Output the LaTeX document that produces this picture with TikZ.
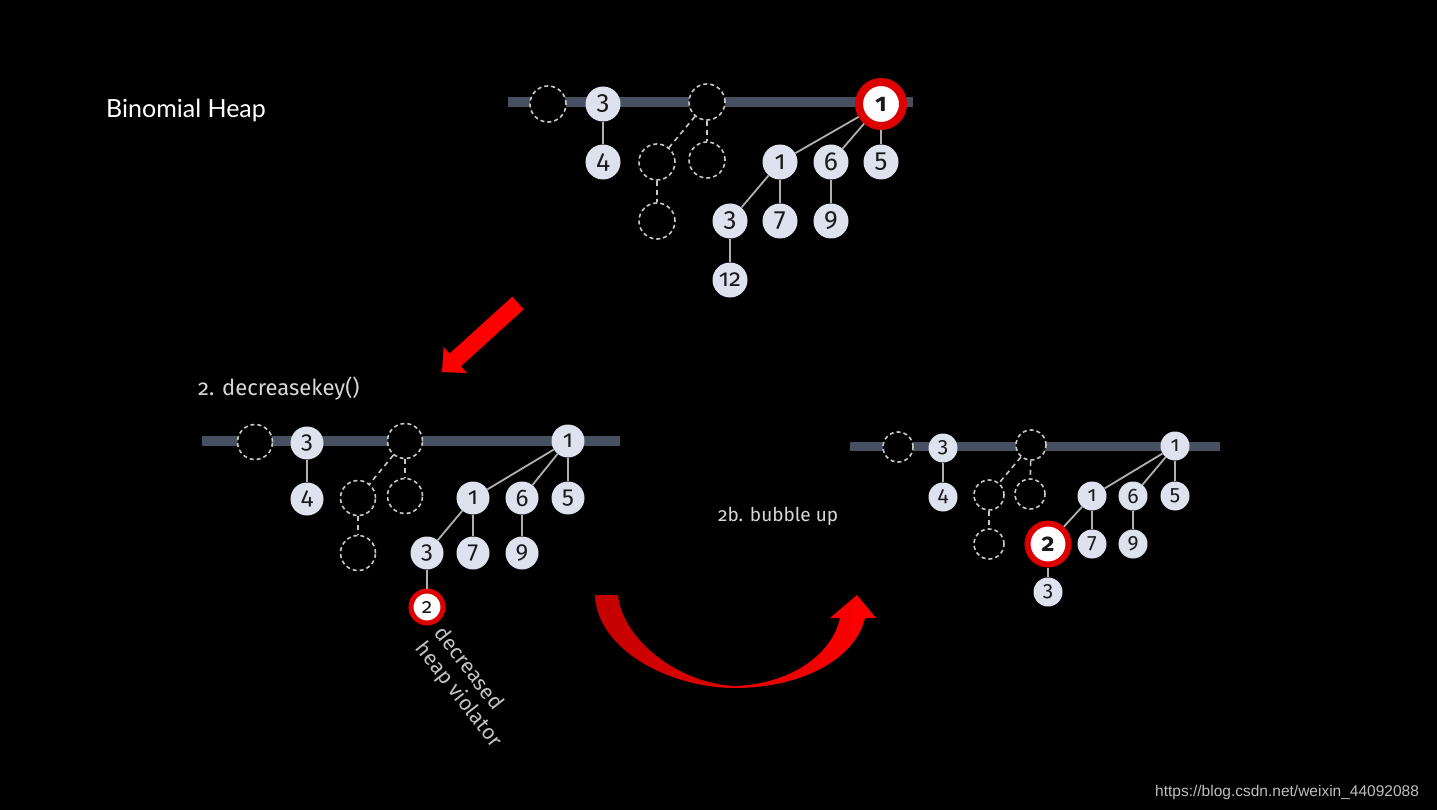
\documentclass[tikz,border=0pt]{standalone}
\usepackage{fontspec}
\usepackage{tikz}
\setmainfont{Fira Sans}[Numbers=OldStyle]
\newfontfamily\titlefont{Lato}
\newfontfamily\urlfont{Liberation Sans}
\definecolor{keyfill}{RGB}{222,226,238}
\definecolor{keyink}{RGB}{25,25,30}
\definecolor{barslate}{RGB}{70,80,96}
\definecolor{linkgrey}{RGB}{175,175,178}
\definecolor{ghostline}{RGB}{200,200,200}
\definecolor{violred}{RGB}{220,0,0}
\definecolor{labelgrey}{RGB}{215,215,215}
\definecolor{arrowred}{RGB}{255,0,0}
\definecolor{arrowdark}{RGB}{195,0,0}
\definecolor{urlgrey}{RGB}{190,190,190}

\begin{document}
\begin{tikzpicture}[
    x=1pt, y=-1pt,
    key/.style={circle, fill=keyfill, text=keyink, inner sep=0pt},
    ghost/.style={circle, draw=ghostline, dash pattern=on 4pt off 3pt, line width=1.6pt, fill=black, inner sep=0pt},
    violator/.style={key, draw=violred, fill=white},
    link/.style={draw=linkgrey, line width=1.8pt},
    ghostlink/.style={draw=ghostline, line width=1.6pt, dash pattern=on 5pt off 4pt},
    rootbar/.style={draw=barslate, line cap=butt},
    steplabel/.style={text=labelgrey, inner sep=0pt, font=\fontsize{22}{21}\selectfont}
]
    % Background
    \fill[black] (0,0) rectangle (1437,810);

    % Title
    \node[anchor=base west, inner sep=0pt, text=white, font=\titlefont\fontsize{25}{25}\selectfont] (title) at (106,118) {Binomial Heap};

    % Heap before decreasekey
    \begin{scope}[key/.append style={minimum size=35pt, font=\fontsize{26}{26}\selectfont},
                  ghost/.append style={minimum size=36pt},
                  violator/.append style={minimum size=44pt, line width=8pt, font=\bfseries\fontsize{25}{25}\selectfont}]
        \draw[rootbar, line width=10pt] (508,102) -- (913,102);
        \node[ghost] (aG1) at (548,104) {};
        \node[key] (a3) at (603,104) {3};
        \node[ghost] (aG2) at (707,102) {};
        \node[violator] (aR) at (881,104) {1};
        \node[key] (a4) at (603,162) {4};
        \node[ghost] (aG21) at (657,162) {};
        \node[ghost] (aG22) at (707,160) {};
        \node[ghost] (aG211) at (657,221) {};
        \node[key] (a1) at (780,162) {1};
        \node[key] (a6) at (831,162) {6};
        \node[key] (a5) at (881,162) {5};
        \node[key] (a13) at (730,221) {3};
        \node[key] (a17) at (780,221) {7};
        \node[key] (a69) at (831,221) {9};
        \node[key, font=\fontsize{24}{24}\selectfont] (a12) at (730,280) {12};
        \draw[link] (a3) -- (a4);
        \draw[link] (aR) -- (a1);
        \draw[link] (aR) -- (a6);
        \draw[link] (aR) -- (a5);
        \draw[link] (a1) -- (a13);
        \draw[link] (a1) -- (a17);
        \draw[link] (a6) -- (a69);
        \draw[link] (a13) -- (a12);
        \draw[ghostlink] (aG2) -- (aG21);
        \draw[ghostlink] (aG2) -- (aG22);
        \draw[ghostlink] (aG21) -- (aG211);
    \end{scope}

    % Arrow down to step 2
    \fill[arrowred] (512.3,296.7) -- (523.7,309.3) -- (461,366.2) -- (467,373) -- (442,372) -- (443.6,347) -- (449.6,353.6) -- cycle;

    % Step 2: decreased key
    \node[steplabel, anchor=base west] (decLabel) at (198,395) {2. decreasekey()};
    \begin{scope}[key/.append style={minimum size=33pt, font=\fontsize{24}{24}\selectfont},
                  ghost/.append style={minimum size=35pt},
                  violator/.append style={minimum size=32pt, line width=5pt, font=\fontsize{21}{21}\selectfont}]
        \draw[rootbar, line width=10pt] (202,441) -- (620,441);
        \node[ghost] (bG1) at (255,442) {};
        \node[key] (b3) at (307,443) {3};
        \node[ghost] (bG2) at (405,441) {};
        \node[key] (bR) at (568,441) {1};
        \node[key] (b4) at (307,499) {4};
        \node[ghost] (bG21) at (358,498) {};
        \node[ghost] (bG22) at (405,496) {};
        \node[ghost] (bG211) at (358,553) {};
        \node[key] (b1) at (473,498) {1};
        \node[key] (b6) at (522,498) {6};
        \node[key] (b5) at (568,498) {5};
        \node[key] (b13) at (427,553) {3};
        \node[key] (b17) at (473,553) {7};
        \node[key] (b69) at (522,553) {9};
        \node[violator] (b2) at (427,607) {2};
        \draw[link] (b3) -- (b4);
        \draw[link] (bR) -- (b1);
        \draw[link] (bR) -- (b6);
        \draw[link] (bR) -- (b5);
        \draw[link] (b1) -- (b13);
        \draw[link] (b1) -- (b17);
        \draw[link] (b6) -- (b69);
        \draw[link] (b13) -- (b2);
        \draw[ghostlink] (bG2) -- (bG21);
        \draw[ghostlink] (bG2) -- (bG22);
        \draw[ghostlink] (bG21) -- (bG211);
    \end{scope}
    \node[steplabel, rotate=-52, anchor=north west, align=left, text=labelgrey!90!black, font=\fontsize{21}{24}\selectfont] (violLabel) at (446,624) {decreased\\heap violator};

    % Bubble up arrow
    \shade[left color=arrowdark, right color=arrowred] (595,595) .. controls (597,650) and (670,688) .. (735,688) .. controls (800,688) and (855,660) .. (865,618) -- (876,618) -- (857,595) -- (830,618) -- (840,618) .. controls (832,655) and (790,684) .. (735,686) .. controls (680,684) and (622,640) .. (618,595) -- cycle;
    \node[steplabel, anchor=base west, font=\fontsize{19}{19}\selectfont] (bubLabel) at (718,521) {2b. bubble up};

    % Heap after bubble up
    \begin{scope}[key/.append style={minimum size=29pt, font=\fontsize{21}{21}\selectfont},
                  ghost/.append style={minimum size=30pt},
                  violator/.append style={minimum size=41pt, line width=6pt, font=\bfseries\fontsize{25}{25}\selectfont}]
        \draw[rootbar, line width=9pt] (850,446) -- (1220,446);
        \node[ghost] (cG1) at (898,447) {};
        \node[key] (c3) at (943,448) {3};
        \node[ghost] (cG2) at (1031,445) {};
        \node[key] (cR) at (1175,446) {1};
        \node[key] (c4) at (943,497) {4};
        \node[ghost] (cG21) at (989,495) {};
        \node[ghost] (cG22) at (1030,494) {};
        \node[ghost] (cG211) at (989,544) {};
        \node[key] (c1) at (1092,496) {1};
        \node[key] (c6) at (1133,496) {6};
        \node[key] (c5) at (1175,496) {5};
        \node[violator] (c2) at (1048,544) {2};
        \node[key] (c17) at (1092,544) {7};
        \node[key] (c69) at (1133,544) {9};
        \node[key] (c23) at (1048,592) {3};
        \draw[link] (c3) -- (c4);
        \draw[link] (cR) -- (c1);
        \draw[link] (cR) -- (c6);
        \draw[link] (cR) -- (c5);
        \draw[link] (c1) -- (c2);
        \draw[link] (c1) -- (c17);
        \draw[link] (c6) -- (c69);
        \draw[link] (c2) -- (c23);
        \draw[ghostlink] (cG2) -- (cG21);
        \draw[ghostlink] (cG2) -- (cG22);
        \draw[ghostlink] (cG21) -- (cG211);
    \end{scope}

    % Source
    \node[anchor=base west, inner sep=0pt, text=urlgrey, font=\urlfont\fontsize{15.5}{15.5}\selectfont] (source) at (1155,796) {https://blog.csdn.net/weixin\_44092088};
\end{tikzpicture}
\end{document}
